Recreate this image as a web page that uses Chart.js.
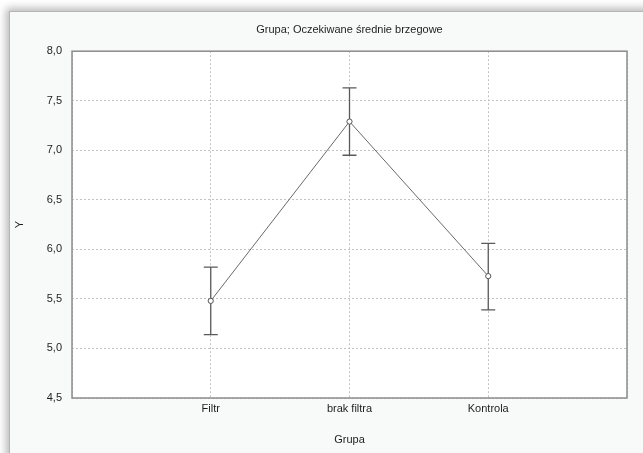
<!DOCTYPE html>
<html>
<head>
<meta charset="utf-8">
<script src="https://cdn.jsdelivr.net/npm/chart.js@4.4.0/dist/chart.umd.min.js"></script>
<style>
  html, body { margin: 0; padding: 0; background: #ffffff; overflow: hidden; }
  #frame {
    position: absolute; left: 9px; top: 11px; width: 700px; height: 520px;
    background: #f8f9f9; border: 1px solid #b5b5b5;
    box-shadow: -3px -3px 8px rgba(0, 0, 0, 0.28);
  }
  #chart1 { position: absolute; left: 0; top: 0; }
</style>
</head>
<body>
<div id="frame"></div>
<canvas id="chart1" width="643" height="453"></canvas>
<script>
// dane
const groups = ['Filtr', 'brak filtra', 'Kontrola'];
const means = [5.48, 7.29, 5.73];
const lower = [5.14, 6.95, 5.39];
const upper = [5.82, 7.63, 6.06];
const yTicks = [4.5, 5.0, 5.5, 6.0, 6.5, 7.0, 7.5, 8.0];

const FONT = '"Liberation Sans", Arial, sans-serif';

// białe pole wykresu + ramka
const plotBg = {
    id: 'plotBg',
    beforeDraw(chart) {
        const { ctx, chartArea: a } = chart;
        ctx.save();
        ctx.fillStyle = '#ffffff';
        ctx.fillRect(a.left, a.top, a.right - a.left, a.bottom - a.top);
        ctx.restore();
    },
    afterDraw(chart) {
        const { ctx, chartArea: a } = chart;
        ctx.save();
        ctx.strokeStyle = '#8c8c8c';
        ctx.lineWidth = 1.5;
        ctx.strokeRect(a.left, a.top, a.right - a.left, a.bottom - a.top);
        ctx.restore();
    }
};

// słupki błędów (przedziały ufności)
const errorBars = {
    id: 'errorBars',
    beforeDatasetsDraw(chart) {
        const { ctx, scales: { x, y } } = chart;
        ctx.save();
        ctx.strokeStyle = '#5a5a5a';
        ctx.lineWidth = 1.3;
        groups.forEach((g, i) => {
            const px = x.getPixelForValue(i + 1);
            const lo = y.getPixelForValue(lower[i]);
            const hi = y.getPixelForValue(upper[i]);
            ctx.beginPath();
            ctx.moveTo(px, lo); ctx.lineTo(px, hi);
            ctx.moveTo(px - 7, lo); ctx.lineTo(px + 7, lo);
            ctx.moveTo(px - 7, hi); ctx.lineTo(px + 7, hi);
            ctx.stroke();
        });
        ctx.restore();
    }
};

const ctx = document.getElementById('chart1').getContext('2d');
new Chart(ctx, {
    type: 'line',
    data: {
        datasets: [{
            data: means.map((v, i) => ({ x: i + 1, y: v })),
            borderColor: '#6a6a6a',
            borderWidth: 1,
            pointRadius: 2.6,
            pointBackgroundColor: '#ffffff',
            pointBorderColor: '#555555',
            pointBorderWidth: 1,
            tension: 0
        }]
    },
    options: {
        responsive: false,
        animation: false,
        layout: { padding: { left: 0, right: 16, top: 0, bottom: 0 } },
        plugins: {
            legend: { display: false },
            tooltip: { enabled: false },
            title: {
                display: true,
                fullSize: false,
                text: 'Grupa; Oczekiwane średnie brzegowe',
                color: '#1e1e1e',
                font: { family: FONT, size: 11, weight: 'normal' },
                padding: { top: 23, bottom: 15 }
            }
        },
        scales: {
            x: {
                type: 'linear',
                min: 0,
                max: 4,
                afterBuildTicks: (s) => { s.ticks = [0, 1, 2, 3, 4].map(v => ({ value: v })); },
                afterFit: (s) => { s.height = 55; },
                ticks: {
                    color: '#1e1e1e',
                    font: { family: FONT, size: 11 },
                    padding: 4,
                    maxRotation: 0,
                    callback: (v) => groups[v - 1] || ''
                },
                grid: { color: '#c4c4c4', tickLength: 0, lineWidth: 1 },
                border: { display: false, dash: [2, 2] },
                title: {
                    display: true,
                    text: 'Grupa',
                    color: '#1e1e1e',
                    font: { family: FONT, size: 11 },
                    padding: { top: 0, bottom: 6 }
                }
            },
            y: {
                min: 4.5,
                max: 8.0,
                afterBuildTicks: (s) => { s.ticks = yTicks.map(v => ({ value: v })); },
                afterFit: (s) => { s.width = 72; },
                ticks: {
                    color: '#1e1e1e',
                    font: { family: FONT, size: 11 },
                    padding: 10,
                    callback: (v) => v.toFixed(1).replace('.', ',')
                },
                grid: { color: '#c4c4c4', tickLength: 0, lineWidth: 1 },
                border: { display: false, dash: [2, 2] },
                title: {
                    display: true,
                    text: 'Y',
                    color: '#1e1e1e',
                    font: { family: FONT, size: 11 },
                    padding: { top: 13, bottom: 0 }
                }
            }
        }
    },
    plugins: [plotBg, errorBars]
});
</script>
</body>
</html>
